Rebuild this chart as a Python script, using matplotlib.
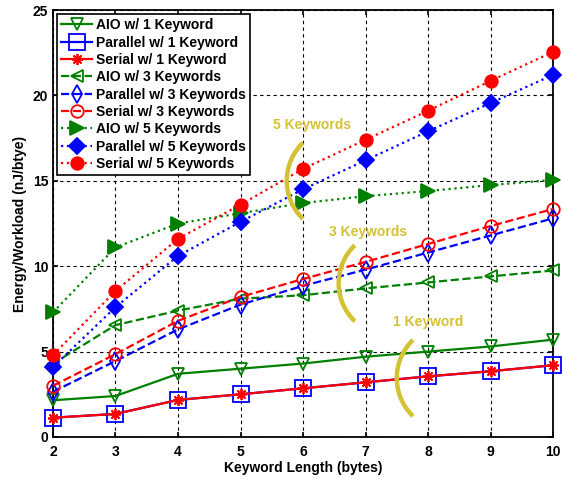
import matplotlib
matplotlib.use("Agg")
import matplotlib.pyplot as plt
import numpy as np
from matplotlib.patches import Arc

plt.rcParams["font.family"] = ["Liberation Sans", "DejaVu Sans"]
plt.rcParams["font.weight"] = "bold"

# data
key_len = [2, 3, 4, 5, 6, 7, 8, 9, 10]

aio_1 = [2.15, 2.4, 3.7, 4.0, 4.3, 4.7, 5.0, 5.3, 5.7]
par_1 = [1.13, 1.35, 2.17, 2.5, 2.85, 3.2, 3.55, 3.85, 4.2]
ser_1 = [1.13, 1.35, 2.17, 2.5, 2.85, 3.2, 3.55, 3.85, 4.2]

aio_3 = [4.3, 6.55, 7.4, 8.1, 8.3, 8.7, 9.05, 9.4, 9.75]
par_3 = [2.65, 4.45, 6.3, 7.75, 8.85, 9.8, 10.8, 11.8, 12.8]
ser_3 = [3.0, 4.85, 6.8, 8.2, 9.25, 10.25, 11.3, 12.35, 13.35]

aio_5 = [7.3, 11.1, 12.5, 13.1, 13.7, 14.1, 14.4, 14.75, 15.05]
par_5 = [4.1, 7.6, 10.6, 12.6, 14.5, 16.2, 17.9, 19.55, 21.2]
ser_5 = [4.8, 8.55, 11.6, 13.6, 15.7, 17.4, 19.1, 20.85, 22.55]

labels = [
    "AIO w/ 1 Keyword", "Parallel w/ 1 Keyword", "Serial w/ 1 Keyword",
    "AIO w/ 3 Keywords", "Parallel w/ 3 Keywords", "Serial w/ 3 Keywords",
    "AIO w/ 5 Keywords", "Parallel w/ 5 Keywords", "Serial w/ 5 Keywords",
]

# group annotations: label, text position, arc centre (data units)
groups = [
    ("5 Keywords", (6.14, 18.25), (6.59, 15.0)),
    ("3 Keywords", (7.04, 12.0), (7.42, 9.0)),
    ("1 Keyword", (8.0, 6.75), (8.35, 3.45)),
]
ARC_W, ARC_H = 1.7, 6.2   # data units, roughly a circle on screen

GREEN, BLUE, RED = "#008000", "#0000ff", "#ff0000"
GOLD = "#d4c234"


def stretched(t):
    # Arc angles are measured in data space; convert from the circle parameter
    r = np.deg2rad(t)
    return np.rad2deg(np.arctan2(ARC_H * np.sin(r), ARC_W * np.cos(r))) % 360


fig = plt.figure(figsize=(5.62, 4.79), dpi=100)
ax = fig.add_axes([0.0943, 0.0877, 0.8897, 0.8914])

series = [
    (aio_1, GREEN, "-", "v", "none", 9),
    (par_1, BLUE, "-", "s", "none", 11),
    (ser_1, RED, "-", (8, 2, 0), RED, 8),
    (aio_3, GREEN, "--", "<", "none", 9),
    (par_3, BLUE, "--", "d", "none", 9),
    (ser_3, RED, "--", "o", "none", 9),
    (aio_5, GREEN, ":", ">", GREEN, 10),
    (par_5, BLUE, ":", "D", BLUE, 8),
    (ser_5, RED, ":", "o", RED, 9),
]
for (vals, col, ls, mk, fc, ms), lab in zip(series, labels):
    ax.plot(key_len, vals, color=col, linestyle=ls, linewidth=1.6, marker=mk,
            markerfacecolor=fc, markeredgecolor=col, markeredgewidth=1.3,
            markersize=ms, label=lab, clip_on=False, zorder=3)

for text, tpos, cpos in groups:
    ax.add_patch(Arc(cpos, ARC_W, ARC_H, theta1=stretched(134), theta2=stretched(226),
                     color=GOLD, lw=3.2, zorder=4))
    ax.text(tpos[0], tpos[1], text, color=GOLD, fontsize=10, fontweight="bold",
            ha="center", va="center")

ax.set_xlim(2, 10)
ax.set_ylim(0, 25)
ax.set_xticks(key_len)
ax.set_yticks([0, 5, 10, 15, 20, 25])
ax.grid(True, linestyle=(0, (3, 3)), color="black", linewidth=0.8)
ax.tick_params(direction="in", labelsize=10, width=1.2, top=True, right=True)
ax.tick_params(axis="x", pad=6)
for sp in ax.spines.values():
    sp.set_linewidth(1.3)
ax.set_xlabel("Keyword Length (bytes)", fontsize=10, fontweight="bold", labelpad=1)
ax.set_ylabel("Energy/Workload (nJ/btye)", fontsize=10, fontweight="bold", labelpad=4)

leg = ax.legend(loc="upper left", fontsize=10, frameon=True, fancybox=False,
                edgecolor="black", borderaxespad=0.3, handlelength=2.2,
                labelspacing=0.24, borderpad=0.3, handletextpad=0.3)
leg.get_frame().set_linewidth(1.2)
leg.get_frame().set_alpha(1)
leg.set_zorder(5)

fig.savefig("out.png", dpi=100)
